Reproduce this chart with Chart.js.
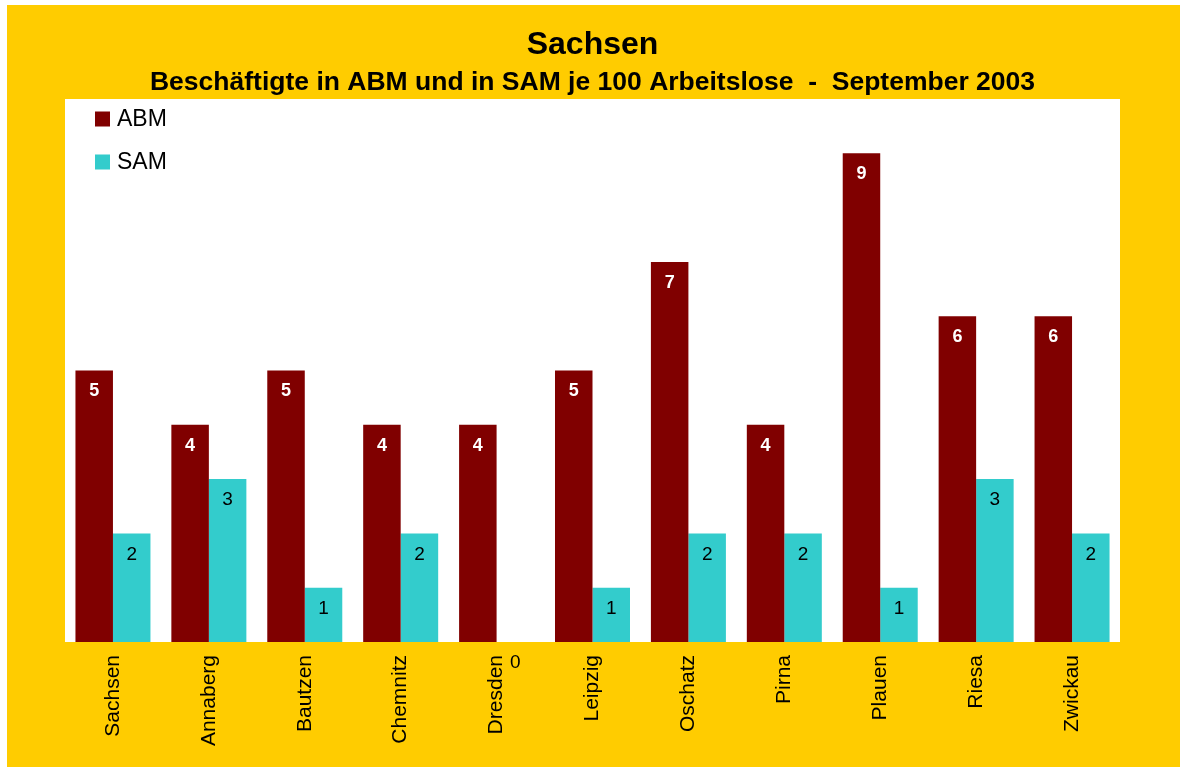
<!DOCTYPE html>
<html>
<head>
<meta charset="utf-8">
<script src="https://cdn.jsdelivr.net/npm/chart.js@4/dist/chart.umd.min.js"></script>
<style>
  html, body { margin: 0; padding: 0; background: #ffffff; }
  #wrap { width: 1180px; height: 767px; }
</style>
</head>
<body>
<div id="wrap"><canvas id="c" width="1180" height="767"></canvas></div>
<script>
const categories = ['Sachsen', 'Annaberg', 'Bautzen', 'Chemnitz', 'Dresden', 'Leipzig', 'Oschatz', 'Pirna', 'Plauen', 'Riesa', 'Zwickau'];
const abmValues = [5, 4, 5, 4, 4, 5, 7, 4, 9, 6, 6];
const samValues = [2, 3, 1, 2, 0, 1, 2, 2, 1, 3, 2];
const seriesNames = ['ABM', 'SAM'];
const titleText = 'Sachsen';
const subtitleText = 'Beschäftigte in ABM und in SAM je 100 Arbeitslose  -  September 2003';

const FONT = "'Liberation Sans', Arial, sans-serif";
const YELLOW = '#FFCC00';
const ABM_COLOR = '#800000';
const SAM_COLOR = '#33CCCC';

const backgroundPlugin = {
  id: 'bg',
  beforeDraw(chart) {
    const ctx = chart.ctx;
    ctx.save();
    ctx.fillStyle = '#ffffff';
    ctx.fillRect(0, 0, chart.width, chart.height);
    ctx.fillStyle = YELLOW;
    ctx.fillRect(7, 5, chart.width - 7, chart.height - 5);
    ctx.restore();
  },
  beforeDatasetsDraw(chart) {
    const a = chart.chartArea;
    const ctx = chart.ctx;
    ctx.save();
    ctx.fillStyle = '#ffffff';
    ctx.fillRect(a.left, a.top, a.right - a.left, a.bottom - a.top);
    ctx.restore();
  }
};

const labelsPlugin = {
  id: 'valueLabels',
  afterDatasetsDraw(chart) {
    const ctx = chart.ctx;
    ctx.save();
    ctx.textAlign = 'center';
    ctx.textBaseline = 'middle';
    chart.data.datasets.forEach((ds, di) => {
      const meta = chart.getDatasetMeta(di);
      meta.data.forEach((el, i) => {
        const v = ds.data[i];
        if (di === 0) {
          ctx.fillStyle = '#ffffff';
          ctx.font = 'bold 18px ' + FONT;
        } else {
          ctx.fillStyle = '#000000';
          ctx.font = '19px ' + FONT;
        }
        ctx.fillText(String(v), el.x, el.y + 21);
      });
    });
    // legend inside plot area
    const a = chart.chartArea;
    chart.data.datasets.forEach((ds, di) => {
      const cy = a.top + 20 + di * 43;
      ctx.fillStyle = ds.backgroundColor;
      ctx.fillRect(a.left + 30, cy - 7.5, 15, 15);
      ctx.fillStyle = '#000000';
      ctx.font = '23px ' + FONT;
      ctx.textAlign = 'left';
      ctx.fillText(ds.label, a.left + 52, cy + 1);
    });
    ctx.restore();
  }
};

new Chart(document.getElementById('c'), {
  type: 'bar',
  data: {
    labels: categories,
    datasets: [
      { label: seriesNames[0], data: abmValues, backgroundColor: ABM_COLOR, borderWidth: 0 },
      { label: seriesNames[1], data: samValues, backgroundColor: SAM_COLOR, borderWidth: 0 }
    ]
  },
  options: {
    responsive: false,
    animation: false,
    devicePixelRatio: 1,
    layout: { padding: { left: 65, right: 60, top: 5, bottom: 0 } },
    datasets: {
      bar: { categoryPercentage: 0.782, barPercentage: 1.0 }
    },
    plugins: {
      legend: { display: false },
      tooltip: { enabled: false },
      title: {
        display: true,
        text: titleText,
        color: '#000000',
        font: { family: FONT, size: 32, weight: 'bold', lineHeight: 1.2 },
        padding: { top: 20.8, bottom: 0 }
      },
      subtitle: {
        display: true,
        text: subtitleText,
        color: '#000000',
        font: { family: FONT, size: 26.5, weight: 'bold', lineHeight: 1.2 },
        padding: { top: 3, bottom: 0 }
      }
    },
    scales: {
      x: {
        grid: { display: false, drawTicks: true, tickLength: 8 },
        border: { display: false },
        ticks: {
          color: '#000000',
          font: { family: FONT, size: 21 },
          maxRotation: 90,
          minRotation: 90,
          padding: 5,
          autoSkip: false
        },
        afterFit(scale) { scale.height = 125; }
      },
      y: {
        display: false,
        min: 0,
        max: 10
      }
    }
  },
  plugins: [backgroundPlugin, labelsPlugin]
});
</script>
</body>
</html>
